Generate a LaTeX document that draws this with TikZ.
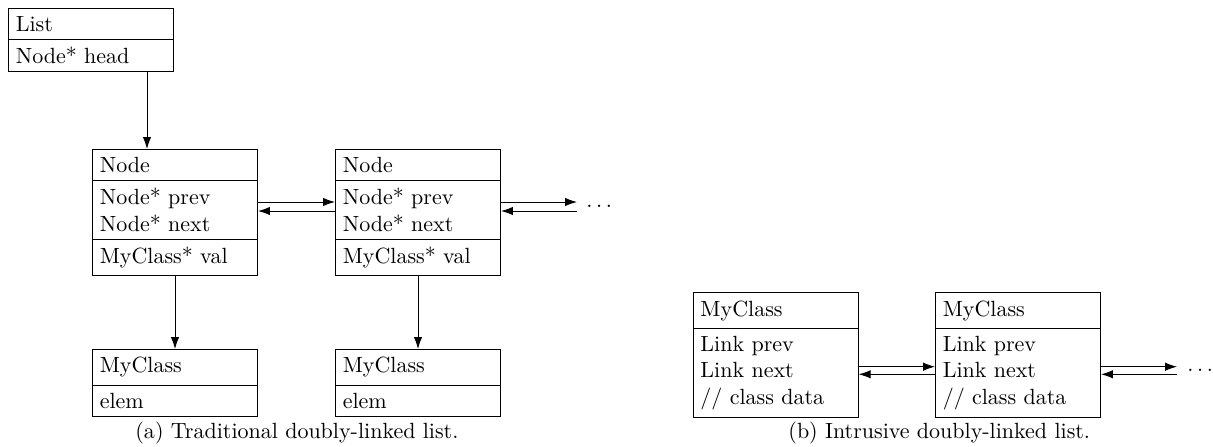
\documentclass[tikz,border=0pt]{standalone}
\usetikzlibrary{shapes.multipart,arrows.meta}
\begin{document}
\begin{tikzpicture}[x=0.4545pt,y=-0.4545pt,
  cls/.style={draw, rectangle split, rectangle split parts=#1, text width=68.4pt, align=left, anchor=north west, line width=0.4pt, inner sep=0.333em},
  arr/.style={-{Latex[length=5.4pt,width=3.8pt]}, line width=0.4pt},
  dotsnode/.style={inner sep=0pt, anchor=base west}]
\useasboundingbox (0,0) rectangle (1213,447);
% (a) traditional
\node[cls=2] (list) at (8,8) {List \nodepart{two} Node* head};
\node[cls=3] (n1) at (92,149) {Node \nodepart{two} Node* prev\\ Node* next \nodepart{three} MyClass* val};
\node[cls=3] (n2) at (335,149) {Node \nodepart{two} Node* prev\\ Node* next \nodepart{three} MyClass* val};
\node[cls=2] (m1) at (92,349) {MyClass \nodepart{two} elem};
\node[cls=2] (m2) at (335,349) {MyClass \nodepart{two} elem};
\node[dotsnode] (d1) at (586,208) {$\ldots$};
\coordinate (hx) at (147,0);
\coordinate (e1) at (577,0);
\draw[arr] (list.south -| hx) -- (n1.north -| hx);
\draw[arr] (n1.east |- 0,202) -- (n2.west |- 0,202);
\draw[arr] (n2.west |- 0,211) -- (n1.east |- 0,211);
\draw[arr] (n2.east |- 0,202) -- (e1 |- 0,202);
\draw[arr] (e1 |- 0,211) -- (n2.east |- 0,211);
\draw[arr] (n1.south) -- (m1.north);
\draw[arr] (n2.south) -- (m2.north);
\node[anchor=base west, inner sep=0pt] (capa) at (135,439) {(a) Traditional doubly-linked list.};
% (b) intrusive
\node[cls=2] (b1) at (692.7,292.3) {MyClass \nodepart{two} Link prev\\ Link next\\ // class data};
\node[cls=2] (b2) at (935,292.3) {MyClass \nodepart{two} Link prev\\ Link next\\ // class data};
\node[dotsnode] (d2) at (1187,372) {$\ldots$};
\coordinate (e2) at (1177,0);
\draw[arr] (b1.east |- 0,366.7) -- (b2.west |- 0,366.7);
\draw[arr] (b2.west |- 0,374.3) -- (b1.east |- 0,374.3);
\draw[arr] (b2.east |- 0,366.7) -- (e2 |- 0,366.7);
\draw[arr] (e2 |- 0,374.3) -- (b2.east |- 0,374.3);
\node[anchor=base west, inner sep=0pt] (capb) at (788,439) {(b) Intrusive doubly-linked list.};
\end{tikzpicture}
\end{document}
